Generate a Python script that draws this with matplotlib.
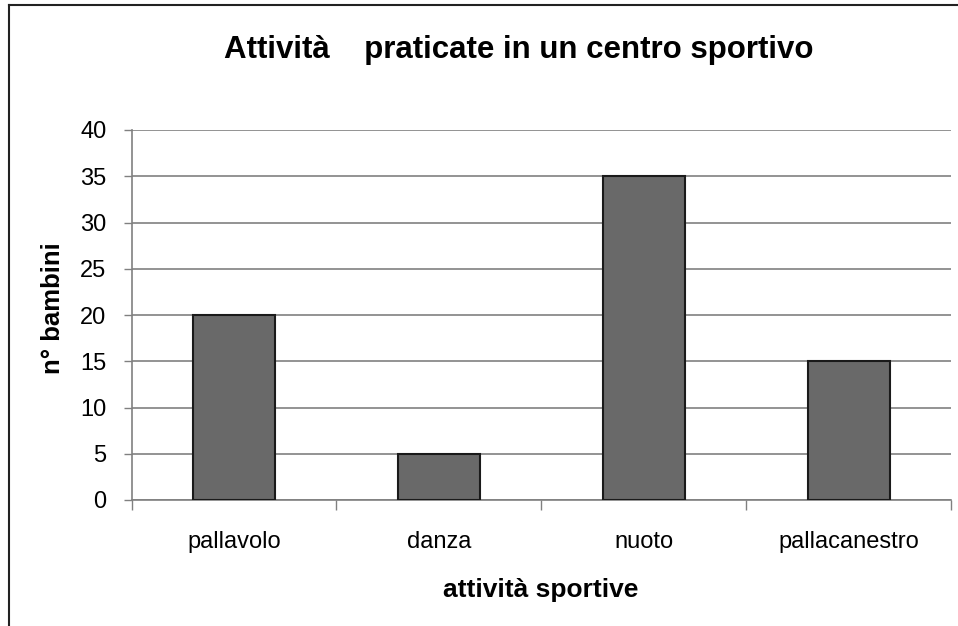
import matplotlib
matplotlib.use("Agg")
import matplotlib.pyplot as plt
from matplotlib.lines import Line2D

categories = ["pallavolo", "danza", "nuoto", "pallacanestro"]
counts = [20, 5, 35, 15]
y_ticks = [0, 5, 10, 15, 20, 25, 30, 35, 40]

plt.rcParams["font.family"] = ["Liberation Sans", "DejaVu Sans"]

W, H = 958, 626
fig = plt.figure(figsize=(W / 100, H / 100), dpi=100)

# plot area in pixels: x 131..951, y 130..500
left, right, top, bottom = 131.5, 951, 130, 500
ax = fig.add_axes([left / W, 1 - bottom / H, (right - left) / W, (bottom - top) / H])

x = list(range(len(categories)))
ax.bar(x, counts, width=0.4, color="#696969", edgecolor="#1a1a1a", linewidth=1.5, zorder=3)

ax.set_xlim(-0.5, len(categories) - 0.5)
ax.set_ylim(0, 40)
ax.set_yticks(y_ticks)
ax.set_yticklabels([str(v) for v in y_ticks], fontsize=17)
ax.yaxis.grid(True, color="#808080", linewidth=1.2, zorder=0)

ax.set_xticks([i - 0.5 for i in range(len(categories) + 1)])
ax.set_xticklabels([])
ax.set_xticks(x, minor=True)
ax.set_xticklabels(categories, minor=True, fontsize=17)
ax.tick_params(axis="x", which="major", direction="out", length=7, color="#808080", width=1)
ax.tick_params(axis="x", which="minor", length=0, pad=22.5)
ax.tick_params(axis="y", direction="out", length=6, color="#808080", width=1, pad=12)

for side in ["top", "right"]:
    ax.spines[side].set_visible(False)
for side in ["left", "bottom"]:
    ax.spines[side].set_color("#808080")
    ax.spines[side].set_linewidth(1.2)

fig.text(541 / W, 1 - 597 / H, "attività sportive", fontsize=19, fontweight="bold",
         ha="center", va="baseline")
fig.text(60 / W, 1 - 308.5 / H, "n° bambini", fontsize=18.5, fontweight="bold",
         ha="center", va="baseline", rotation=90, rotation_mode="anchor")
fig.text(519 / W, 1 - 58 / H, "Attività    praticate in un centro sportivo", fontsize=22.5,
         fontweight="bold", ha="center", va="baseline")

# outer chart border (left and top visible)
fig.add_artist(Line2D([8.5 / W, 8.5 / W], [0, 1 - 5 / H], color="#222222", linewidth=1.5))
fig.add_artist(Line2D([8.5 / W, 1], [1 - 5 / H, 1 - 5 / H], color="#222222", linewidth=1.5))

fig.savefig("out.png", dpi=100)
